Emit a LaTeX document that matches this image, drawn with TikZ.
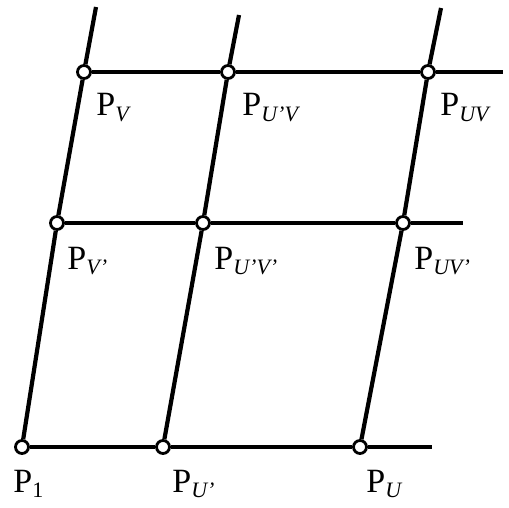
\documentclass[tikz,border=0pt]{standalone}
\usepackage{fontspec}
\setmainfont{Liberation Serif}
\usetikzlibrary{positioning}
\tikzset{
  pt/.style={draw, circle, fill=white, line width=1.4pt, inner sep=0pt, minimum size=6.5pt},
  grid line/.style={line width=2.1pt},
  lbl/.style={font=\fontsize{17}{18}\selectfont, inner sep=0pt, anchor=base west}
}
\newcommand{\psub}[1]{P\raisebox{-0.35ex}{\fontsize{11}{11}\selectfont\itshape #1}}

\begin{document}
\begin{tikzpicture}[x=0.5pt, y=-0.5pt]
    \useasboundingbox (0,0) rectangle (509,508);
    % grid points
    \node[pt] (p1) at (22,447) {};
    \node[pt] (pu1) at (163,447) {};
    \node[pt] (pu) at (360,447) {};
    \node[pt] (pv1) at (57,223) {};
    \node[pt] (pu1v1) at (203,223) {};
    \node[pt] (puv1) at (403,223) {};
    \node[pt] (pv) at (84,72) {};
    \node[pt] (pu1v) at (228,72) {};
    \node[pt] (puv) at (428,72) {};
    % free ends
    \coordinate (e1) at (432,447);
    \coordinate (e2) at (463,223);
    \coordinate (e3) at (503,72);
    \coordinate (t1) at (96,7);
    \coordinate (t2) at (239,15);
    \coordinate (t3) at (441,8);

    \draw[grid line] (p1) -- (pu1) -- (pu) -- (e1);
    \draw[grid line] (pv1) -- (pu1v1) -- (puv1) -- (e2);
    \draw[grid line] (pv) -- (pu1v) -- (puv) -- (e3);
    \draw[grid line] (p1) -- (pv1) -- (pv) -- (t1);
    \draw[grid line] (pu1) -- (pu1v1) -- (pu1v) -- (t2);
    \draw[grid line] (pu) -- (puv1) -- (puv) -- (t3);

    % labels
    \node[lbl] (l1) at (13,492) {P\raisebox{-0.35ex}{\fontsize{11}{11}\selectfont 1}};
    \node[lbl] (lu1) at (172,492) {\psub{U'}};
    \node[lbl] (lu) at (366,492) {\psub{U}};
    \node[lbl] (lv1) at (67,269) {\psub{V'}};
    \node[lbl] (lu1v1) at (214,269) {\psub{U'V'}};
    \node[lbl] (luv1) at (414,269) {\psub{UV'}};
    \node[lbl] (lv) at (96,116) {\psub{V}};
    \node[lbl] (lu1v) at (242,116) {\psub{U'V}};
    \node[lbl] (luv) at (440,116) {\psub{UV}};
\end{tikzpicture}
\end{document}
